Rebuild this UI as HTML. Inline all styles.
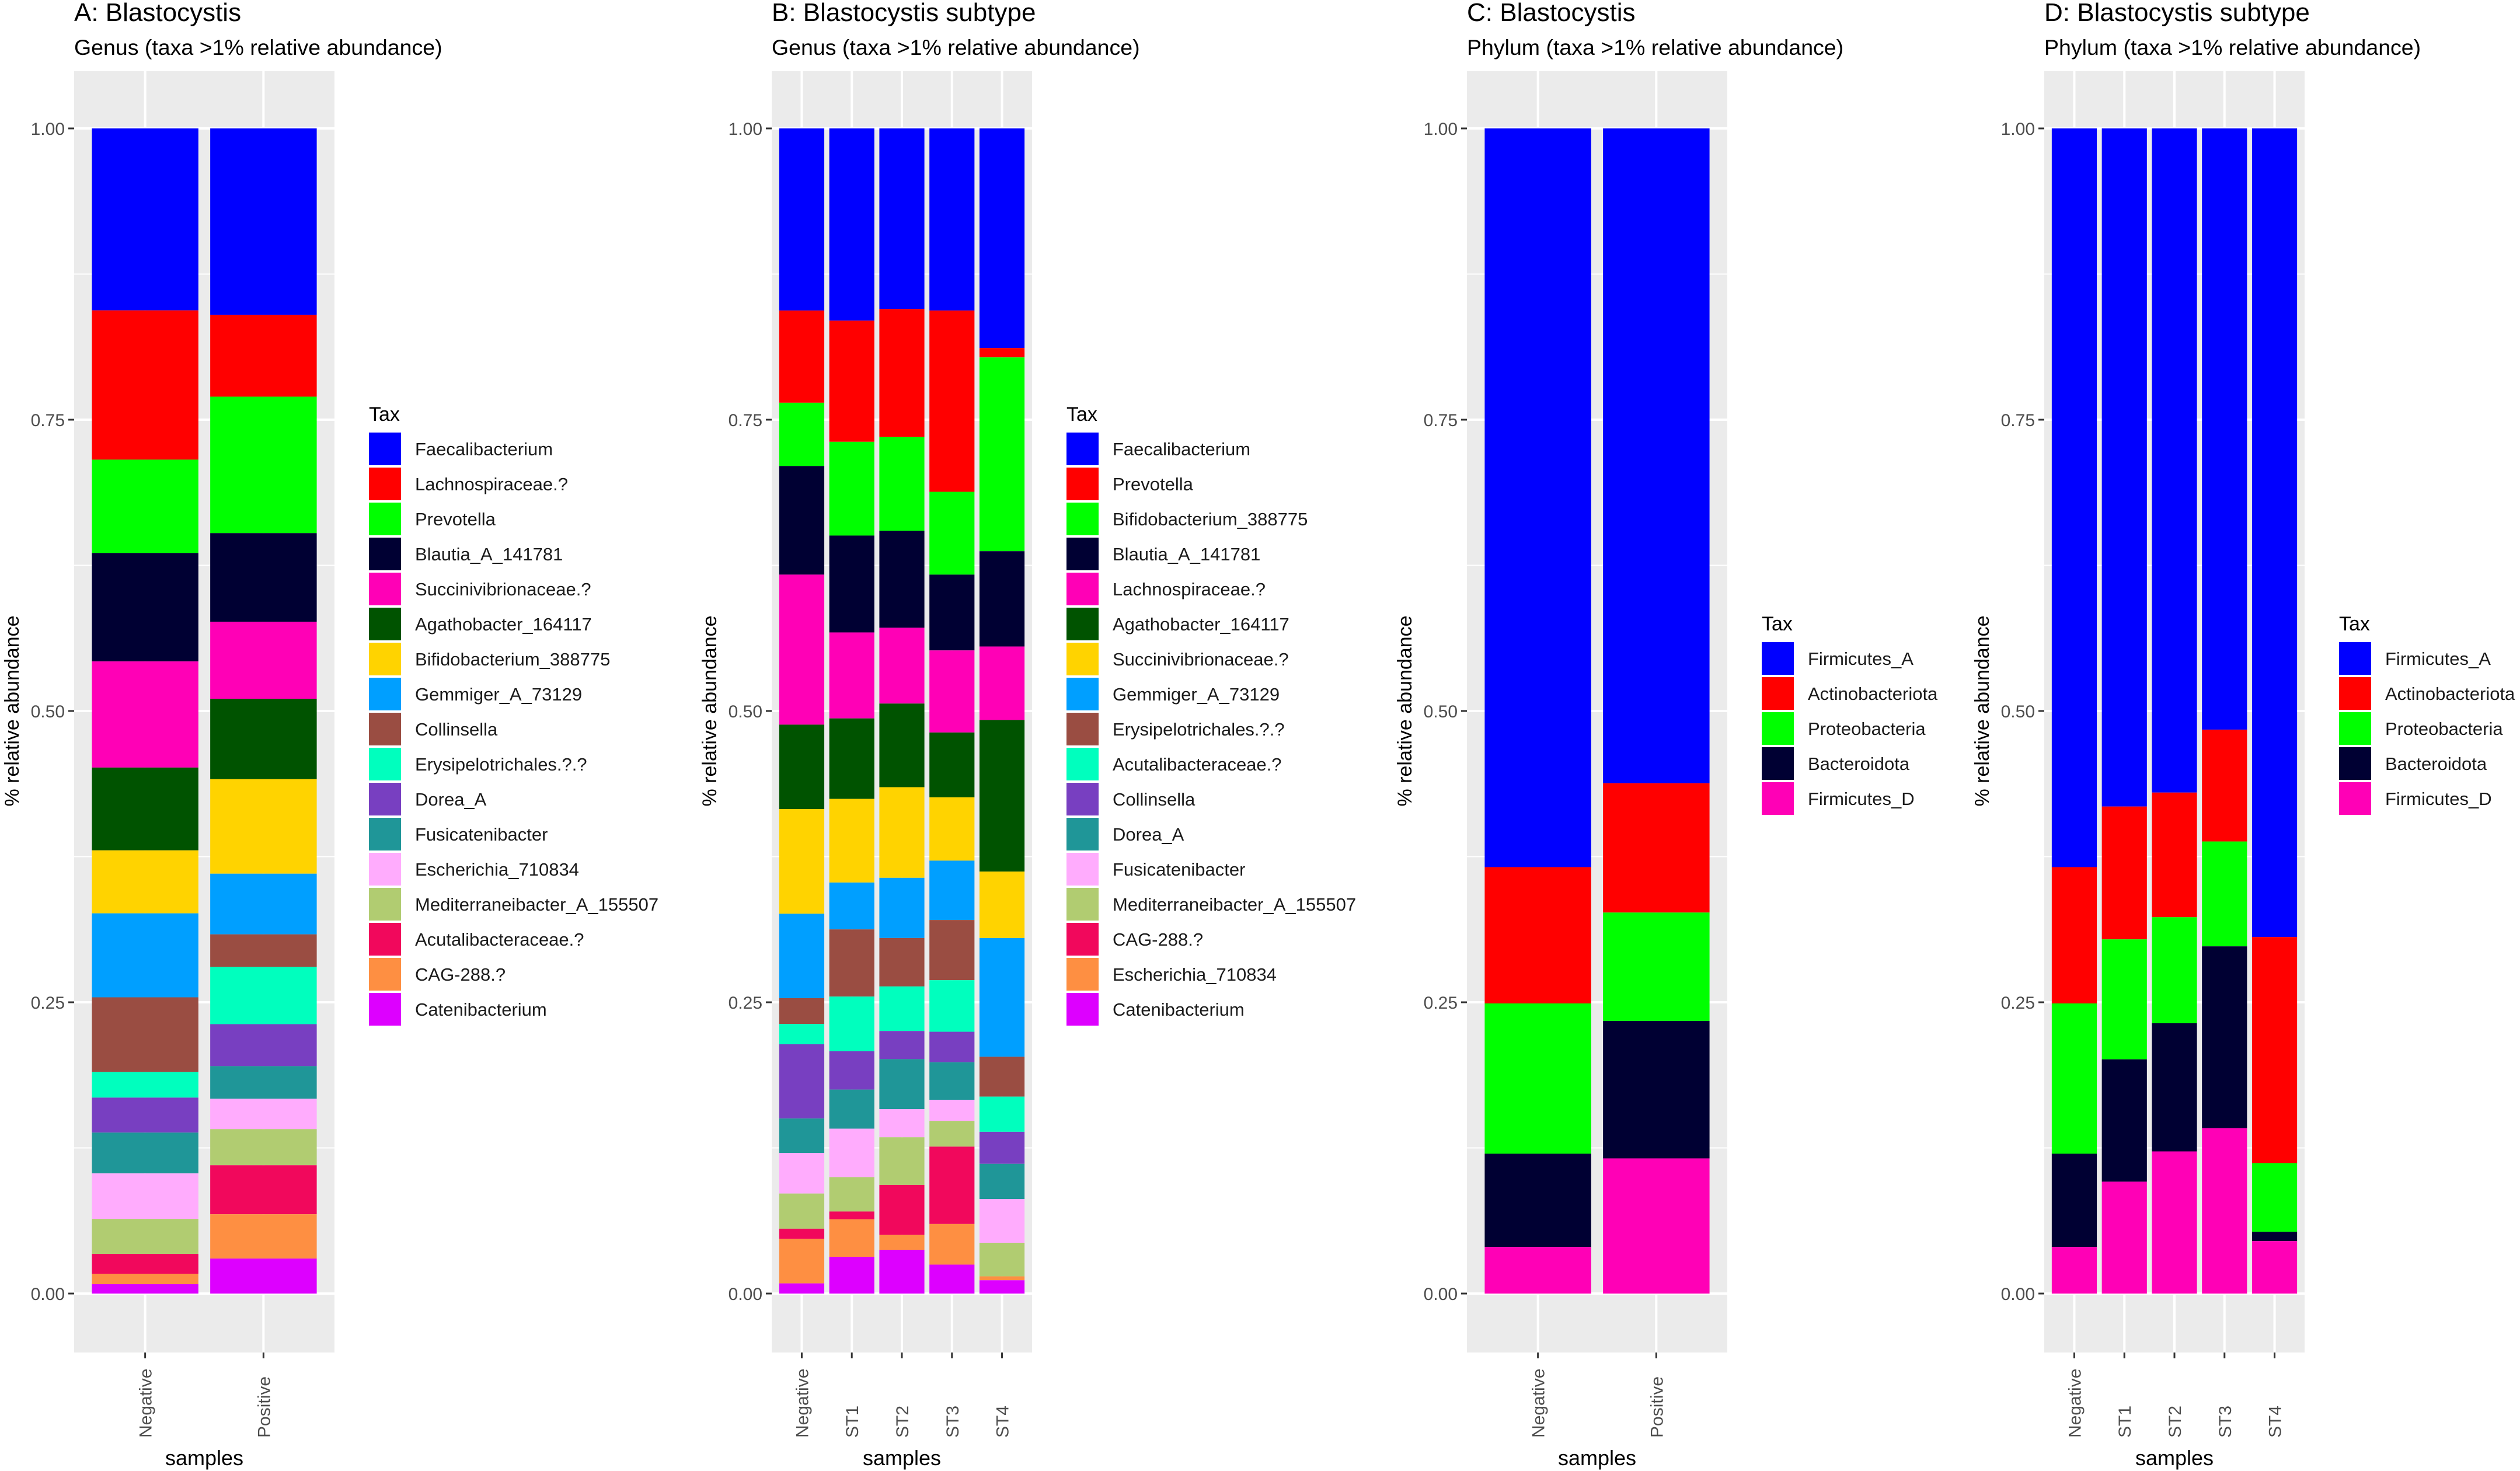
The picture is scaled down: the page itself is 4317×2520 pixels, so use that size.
<!DOCTYPE html>
<html><head><meta charset="utf-8"><style>
html,body{margin:0;padding:0;background:#fff}
svg{display:block;font-family:"Liberation Sans",Arial,sans-serif}
</style></head><body>
<svg id="chart" width="4317" height="2520" viewBox="0 0 4317 2520" xmlns="http://www.w3.org/2000/svg"></svg>
<script>
// ---- data ----
const genusTaxaA = ["Faecalibacterium","Lachnospiraceae.?","Prevotella","Blautia_A_141781","Succinivibrionaceae.?","Agathobacter_164117","Bifidobacterium_388775","Gemmiger_A_73129","Collinsella","Erysipelotrichales.?.?","Dorea_A","Fusicatenibacter","Escherichia_710834","Mediterraneibacter_A_155507","Acutalibacteraceae.?","CAG-288.?","Catenibacterium"];
const samplesA = ["Negative","Positive"];
const valuesA_Negative = [15.6,12.8,8.0,9.3,9.1,7.1,5.4,7.2,6.4,2.2,3.0,3.5,3.9,3.0,1.7,0.9,0.8];
const valuesA_Positive = [16.0,7.0,11.7,7.6,6.6,6.9,8.1,5.2,2.8,4.9,3.6,2.8,2.6,3.1,4.2,3.8,3.0];

const genusTaxaB = ["Faecalibacterium","Prevotella","Bifidobacterium_388775","Blautia_A_141781","Lachnospiraceae.?","Agathobacter_164117","Succinivibrionaceae.?","Gemmiger_A_73129","Erysipelotrichales.?.?","Acutalibacteraceae.?","Collinsella","Dorea_A","Fusicatenibacter","Mediterraneibacter_A_155507","CAG-288.?","Escherichia_710834","Catenibacterium"];
const samplesB = ["Negative","ST1","ST2","ST3","ST4"];
const valuesB_Negative = [233,118,81,139,192,108,134,108,33,26,95,44,52,45,13,57,13];
const valuesB_ST1 = [246,155,120,124,110,103,107,60,86,70,49,50,62,44,10,48,47];
const valuesB_ST2 = [231,164,120,124,97,107,116,77,62,57,36,64,36,61,64,19,56];
const valuesB_ST3 = [233,232,106,97,105,83,81,76,77,66,39,48,27,33,99,52,37];
const valuesB_ST4 = [281,12,248,122,94,194,85,152,51,45,41,45,56,43,0,5,17];

const phylumTaxa = ["Firmicutes_A","Actinobacteriota","Proteobacteria","Bacteroidota","Firmicutes_D"];
const samplesC = ["Negative","Positive"];
const valuesC_Negative = [0.634,0.117,0.129,0.080,0.040];
const valuesC_Positive = [0.562,0.111,0.093,0.118,0.116];
const samplesD = ["Negative","ST1","ST2","ST3","ST4"];
const valuesD_Negative = [0.634,0.117,0.129,0.080,0.040];
const valuesD_ST1 = [0.582,0.114,0.103,0.105,0.096];
const valuesD_ST2 = [0.570,0.107,0.091,0.110,0.122];
const valuesD_ST3 = [0.516,0.096,0.090,0.156,0.142];
const valuesD_ST4 = [0.694,0.194,0.059,0.008,0.045];

const yTicks = [0,0.25,0.5,0.75,1];
const yTickLabels = ["0.00","0.25","0.50","0.75","1.00"];

const palette = ["#0000FF","#FF0000","#00FF00","#000033","#FF00B6","#005300","#FFD300","#009FFF","#9A4D42","#00FFBE","#783FC1","#1F9698","#FFACFD","#B1CC71","#F1085C","#FE8F42","#DD00FF"];

// ---- layout ----
const NS="http://www.w3.org/2000/svg";
const svg=document.getElementById('chart');
const plotTop=122, plotBottom=2317, yZero=2216, yOne=220, panelW=446;
function yScale(v){return yZero-(yZero-yOne)*v;}
function mk(tag,attrs,parent){const e=document.createElementNS(NS,tag);for(const k in attrs)e.setAttribute(k,attrs[k]);(parent||svg).appendChild(e);return e;}

const panels=[
 {id:"a",left:127,title:"A: Blastocystis",sub:"Genus (taxa >1% relative abundance)",taxa:genusTaxaA,samples:samplesA,values:[valuesA_Negative,valuesA_Positive],legY:721},
 {id:"b",left:1322,title:"B: Blastocystis subtype",sub:"Genus (taxa >1% relative abundance)",taxa:genusTaxaB,samples:samplesB,values:[valuesB_Negative,valuesB_ST1,valuesB_ST2,valuesB_ST3,valuesB_ST4],legY:721},
 {id:"c",left:2513,title:"C: Blastocystis",sub:"Phylum (taxa >1% relative abundance)",taxa:phylumTaxa,samples:samplesC,values:[valuesC_Negative,valuesC_Positive],legY:1080},
 {id:"d",left:3502,title:"D: Blastocystis subtype",sub:"Phylum (taxa >1% relative abundance)",taxa:phylumTaxa,samples:samplesD,values:[valuesD_Negative,valuesD_ST1,valuesD_ST2,valuesD_ST3,valuesD_ST4],legY:1080}
];

panels.forEach(p=>{
  const g=mk('g',{});
  
  
  const t=mk('text',{x:p.left,y:36,'font-size':44,fill:'#000'},g);t.textContent=p.title;
  
  
  const s=mk('text',{x:p.left,y:94,'font-size':37.5,fill:'#000'},g);s.textContent=p.sub;
  
  
  const bg=mk('rect',{x:p.left,y:plotTop,width:panelW,height:plotBottom-plotTop,fill:'#EBEBEB'},g);
  
  
  for(let i=0;i<4;i++){const v=0.125+0.25*i;mk('line',{x1:p.left,x2:p.left+panelW,y1:yScale(v),y2:yScale(v),stroke:'#fff','stroke-width':2},g);}
  yTicks.forEach((v,i)=>{
    mk('line',{x1:p.left,x2:p.left+panelW,y1:yScale(v),y2:yScale(v),stroke:'#fff','stroke-width':4},g);
    mk('line',{x1:p.left-10,x2:p.left,y1:yScale(v),y2:yScale(v),stroke:'#333','stroke-width':3},g);
    const tl=mk('text',{x:p.left-16,y:yScale(v)+11,'font-size':30,fill:'#4D4D4D','text-anchor':'end'},g);
    tl.textContent=yTickLabels[i];
    
    
  });
  const n=p.samples.length, unit=panelW/(n+0.2), bw=unit*0.9;
  const yt=mk('text',{x:0,y:0,'font-size':34,fill:'#000','text-anchor':'middle',transform:`translate(${p.left-95},${(yZero+yOne)/2}) rotate(-90)`},g);
  yt.textContent='% relative abundance';
  
  
  p.samples.forEach((smp,i)=>{
    const cx=p.left+unit*(0.6+i);
    mk('line',{x1:cx,x2:cx,y1:plotTop,y2:plotBottom,stroke:'#fff','stroke-width':4},g);
    mk('line',{x1:cx,x2:cx,y1:plotBottom,y2:plotBottom+10,stroke:'#333','stroke-width':3},g);
    const vals=p.values[i];const tot=vals.reduce((a,b)=>a+b,0);
    let cum=1;
    vals.forEach((v,k)=>{
      const f=v/tot; if(f<=0) return;
      const y1=yScale(cum), y2=yScale(cum-f);
      const r=mk('rect',{x:cx-bw/2,y:y1,width:bw,height:y2-y1,fill:palette[k]},g);
      
      
      cum-=f;
    });
    const xl=mk('text',{x:0,y:0,'font-size':30,fill:'#4D4D4D','text-anchor':'start',transform:`translate(${cx+11},2463) rotate(-90)`},g);
    xl.textContent=smp;
    
    
  });
  const xt=mk('text',{x:p.left+panelW/2,y:2510,'font-size':36,fill:'#000','text-anchor':'middle'},g);
  xt.textContent='samples';
  
  
  const lx=p.left+505;
  const lg=mk('g',{},g);
  
  
  const lt=mk('text',{x:lx,y:p.legY,'font-size':34,fill:'#000'},lg);lt.textContent='Tax';
  
  
  p.taxa.forEach((tx,k)=>{
    const ky=p.legY+20+k*60;
    const e=mk('g',{},lg);
    
    
    mk('rect',{x:lx,y:ky,width:55,height:56,fill:palette[k]},e);
    const et=mk('text',{x:lx+79,y:ky+39,'font-size':31,fill:'#1a1a1a'},e);et.textContent=tx;
  });
});
</script>
</body></html>
